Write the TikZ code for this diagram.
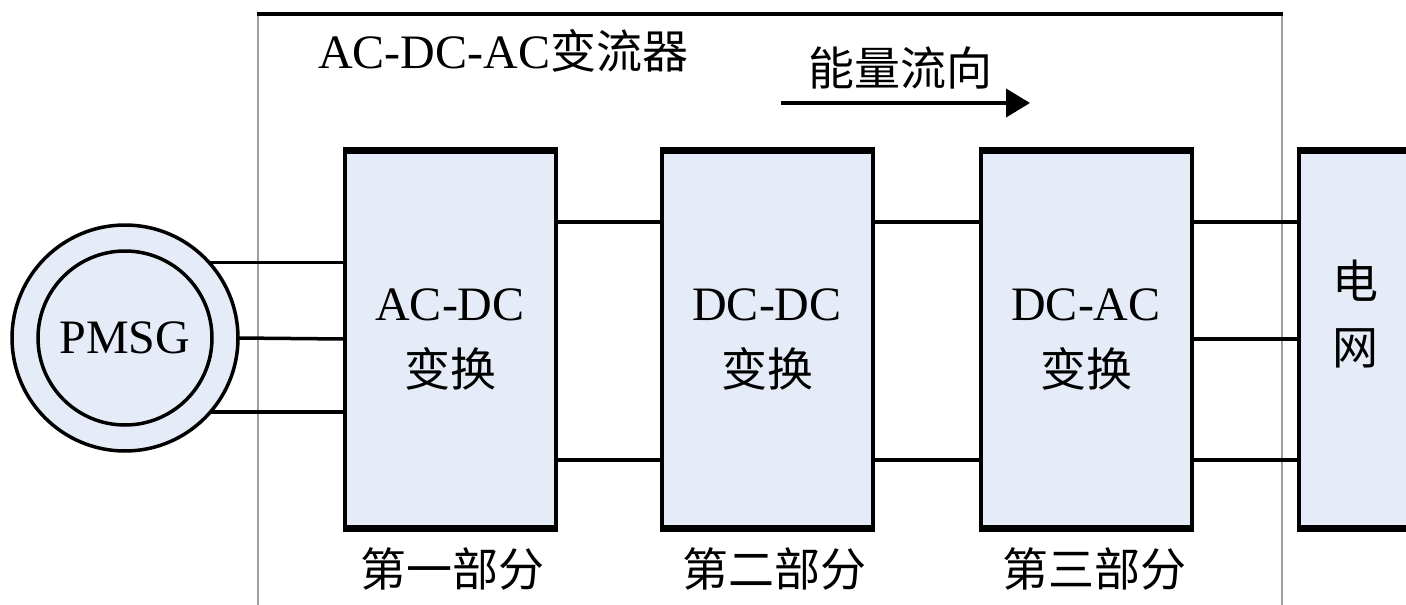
\documentclass[tikz,border=0pt]{standalone}
\usepackage{fontspec}
\setmainfont{Liberation Serif}
\newfontfamily\cjkfont{Noto Sans CJK SC}
\usetikzlibrary{arrows.meta}
\definecolor{boxfill}{RGB}{230,236,247}
\definecolor{framegray}{RGB}{160,160,160}
\newcommand{\myzh}[1]{{\cjkfont\fontsize{46}{66}\selectfont #1}}
\begin{document}
\begin{tikzpicture}[x=1pt,y=-1pt,
  conv/.style={draw, line width=4pt, fill=boxfill, minimum width=211pt, minimum height=378pt,
    inner sep=0pt, outer sep=0pt, align=center, font=\fontsize{48}{66}\selectfont},
  wire/.style={line width=3.5pt},
  edgeline/.style={line width=7pt, shorten <=-2pt, shorten >=-2pt},
  lbl/.style={inner sep=0pt, font=\fontsize{48}{66}\selectfont},
  gen/.style={circle, draw, line width=3.5pt, fill=boxfill, inner sep=0pt, outer sep=0pt,
    font=\fontsize{48}{66}\selectfont}]
\clip (0,0) rectangle (1406,605);
\fill[white] (0,0) rectangle (1406,605);
% converter frame
\draw[framegray, line width=2pt] (257.5,605) -- (257.5,14);
\draw[framegray, line width=2pt] (1281.5,14) -- (1281.5,605);
\draw[line width=4pt] (256.5,14) -- (1282.5,14);
% generator
\node[gen, minimum size=226pt] (pmsg) at (125,338) {};
\node[gen, minimum size=174pt] (rotor) at (125,338) {PMSG};
% blocks
\node[conv] (box1) at (450,339) {AC-DC\\\myzh{变换}};
\node[conv] (box2) at (767,339) {DC-DC\\\myzh{变换}};
\node[conv] (box3) at (1086,339) {DC-AC\\\myzh{变换}};
\node[conv, minimum width=112pt] (grid) at (1355,339) {};
\node[lbl, align=center] (gridtxt) at (1355,314) {\myzh{电}\\\myzh{网}};
\foreach \b in {box1,box2,box3,grid}{
  \draw[edgeline] (\b.north west) -- (\b.north east);
  \draw[edgeline] (\b.south west) -- (\b.south east);
}
% wires
\draw[wire] (pmsg.42.3) -- (pmsg.42.3 -| box1.west);
\draw[wire] (pmsg.east) -- (box1.west);
\draw[wire] (pmsg.-41.6) -- (pmsg.-41.6 -| box1.west);
\draw[wire] ([yshift=117pt]box1.east) -- ([yshift=117pt]box2.west);
\draw[wire] ([yshift=-121pt]box1.east) -- ([yshift=-121pt]box2.west);
\draw[wire] ([yshift=117pt]box2.east) -- ([yshift=117pt]box3.west);
\draw[wire] ([yshift=-121pt]box2.east) -- ([yshift=-121pt]box3.west);
\draw[wire] ([yshift=117pt]box3.east) -- ([yshift=117pt]grid.west);
\draw[wire] (box3.east) -- (grid.west);
\draw[wire] ([yshift=-121pt]box3.east) -- ([yshift=-121pt]grid.west);
% texts
\node[lbl, anchor=west] (title) at (318,51) {AC-DC-AC\myzh{变流器}};
\node[lbl] (flow) at (900,68) {\myzh{能量流向}};
\coordinate (fa) at (781,103);
\coordinate (fb) at (1030,103);
\draw[line width=4pt, -{Triangle[length=24pt,width=28pt]}] (fa) -- (fb);
\node[lbl] (p1) at (452,569) {\myzh{第一部分}};
\node[lbl] (p2) at (774,569) {\myzh{第二部分}};
\node[lbl] (p3) at (1094,569) {\myzh{第三部分}};
\end{tikzpicture}
\end{document}
